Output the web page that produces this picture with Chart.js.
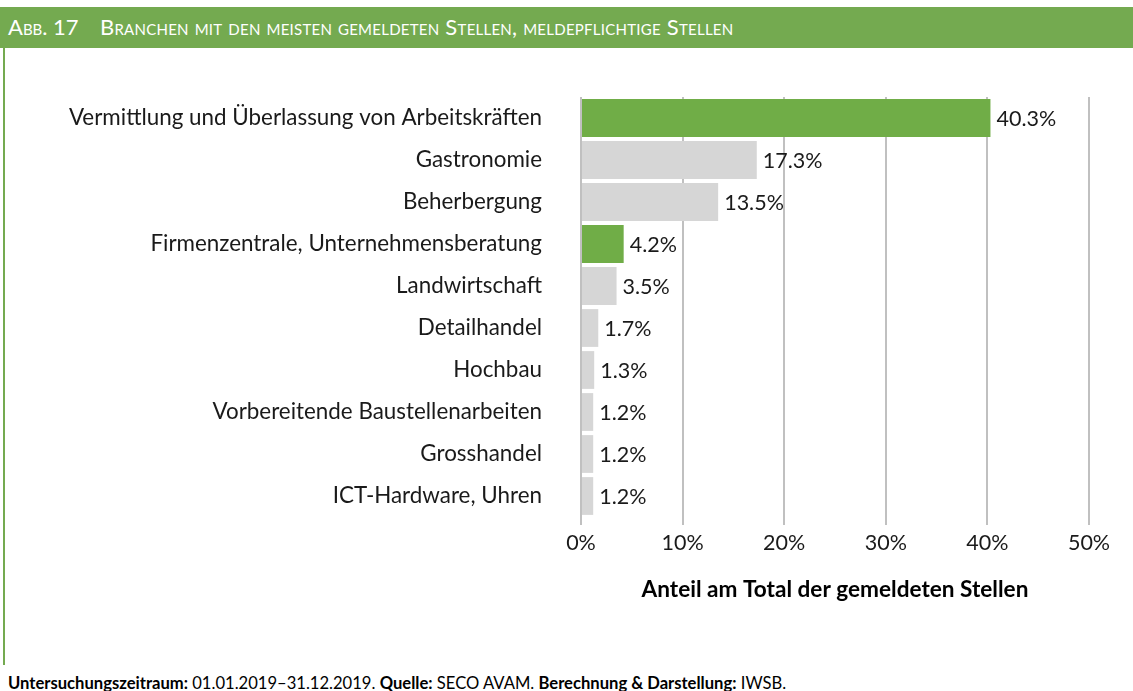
<!DOCTYPE html>
<html>
<head>
<meta charset="utf-8">
<script src="https://cdn.jsdelivr.net/npm/chart.js@4"></script>
<style>
  body { margin: 0; background: #fff; width: 1133px; height: 691px; position: relative; overflow: hidden; font-family: Lato, sans-serif; }
  #head { position: absolute; left: 0; top: 7px; width: 1133px; height: 41px; background: #74aa50; color: #fff; font-size: 22px; line-height: 40px; font-variant: small-caps; white-space: nowrap; }
  #head .nr { position: absolute; left: 8px; }
  #head .tt { position: absolute; left: 100px; letter-spacing: 0.25px; }
  #rule { position: absolute; left: 3px; top: 48px; width: 2px; height: 617px; background: #74aa50; }
  #wrap { position: absolute; left: 0; top: 50px; width: 1133px; height: 570px; }
  #foot { position: absolute; left: 8px; top: 673px; font-size: 16.6px; color: #000; white-space: nowrap; }
</style>
</head>
<body>
<div id="head"><span class="nr">Abb. 17</span><span class="tt">Branchen mit den meisten gemeldeten Stellen, meldepflichtige Stellen</span></div>
<div id="rule"></div>
<div id="wrap"><canvas id="myBarChart"></canvas></div>
<div id="foot"><b>Untersuchungszeitraum:</b> 01.01.2019–31.12.2019. <b>Quelle:</b> SECO AVAM. <b>Berechnung &amp; Darstellung:</b> IWSB.</div>
<script>
// Branchen und Anteile (in %)
var categories = [
    "Vermittlung und Überlassung von Arbeitskräften",
    "Gastronomie",
    "Beherbergung",
    "Firmenzentrale, Unternehmensberatung",
    "Landwirtschaft",
    "Detailhandel",
    "Hochbau",
    "Vorbereitende Baustellenarbeiten",
    "Grosshandel",
    "ICT-Hardware, Uhren"
];
var shares = [40.3, 17.3, 13.5, 4.2, 3.5, 1.7, 1.3, 1.2, 1.2, 1.2];
var highlighted = ["Vermittlung und Überlassung von Arbeitskräften", "Firmenzentrale, Unternehmensberatung"];
var xTicks = [0, 10, 20, 30, 40, 50];

document.addEventListener('DOMContentLoaded', () => {
    var ctx = document.getElementById("myBarChart").getContext('2d');

    // Werte rechts neben die Balken schreiben
    var valueLabels = {
        id: 'valueLabels',
        afterDatasetsDraw(chart) {
            var c = chart.ctx;
            var meta = chart.getDatasetMeta(0);
            c.save();
            c.font = '21.5px Lato';
            c.fillStyle = '#1a1a1a';
            c.textBaseline = 'middle';
            meta.data.forEach((bar, i) => {
                c.fillText(shares[i].toFixed(1) + '%', bar.x + 6, bar.y + 1);
            });
            c.restore();
        }
    };

    var myBarChart = new Chart(ctx, {
        type: 'bar',
        data: {
            labels: categories,
            datasets: [{
                data: shares,
                backgroundColor: categories.map(c => highlighted.includes(c) ? '#70ad47' : '#d6d6d6'),
                borderWidth: 0,
                barPercentage: 0.9,
                categoryPercentage: 1
            }]
        },
        plugins: [valueLabels],
        options: {
            indexAxis: 'y',
            responsive: true,
            maintainAspectRatio: false,
            animation: false,
            layout: { padding: { left: 0, right: 44, top: 47, bottom: 0 } },
            plugins: { legend: { display: false }, tooltip: { enabled: false } },
            scales: {
                x: {
                    min: 0,
                    max: 50,
                    afterBuildTicks: (s) => { s.ticks = xTicks.map(v => ({ value: v })); },
                    afterFit: (s) => { s.height = 103; s.paddingLeft = 0; s.paddingRight = 0; },
                    border: { display: false },
                    grid: { color: '#c0c0c0', lineWidth: 2, drawTicks: true, tickLength: 8, tickColor: '#c0c0c0' },
                    ticks: { padding: 5, color: '#1a1a1a', font: { family: 'Lato', size: 21.5 }, callback: (v) => v + '%' },
                    title: { display: true, text: 'Anteil am Total der gemeldeten Stellen', color: '#000', font: { family: 'Lato', size: 22.6, weight: 'bold' }, padding: { top: 0, bottom: 17 } }
                },
                y: {
                    afterFit: (s) => { s.width = 581; s.paddingTop = 0; s.paddingBottom = 0; },
                    border: { display: false },
                    grid: { display: false, drawTicks: false },
                    ticks: { padding: 39, color: '#1a1a1a', font: { family: 'Lato', size: 22.4 } }
                }
            }
        }
    });
});
</script>
</body>
</html>
